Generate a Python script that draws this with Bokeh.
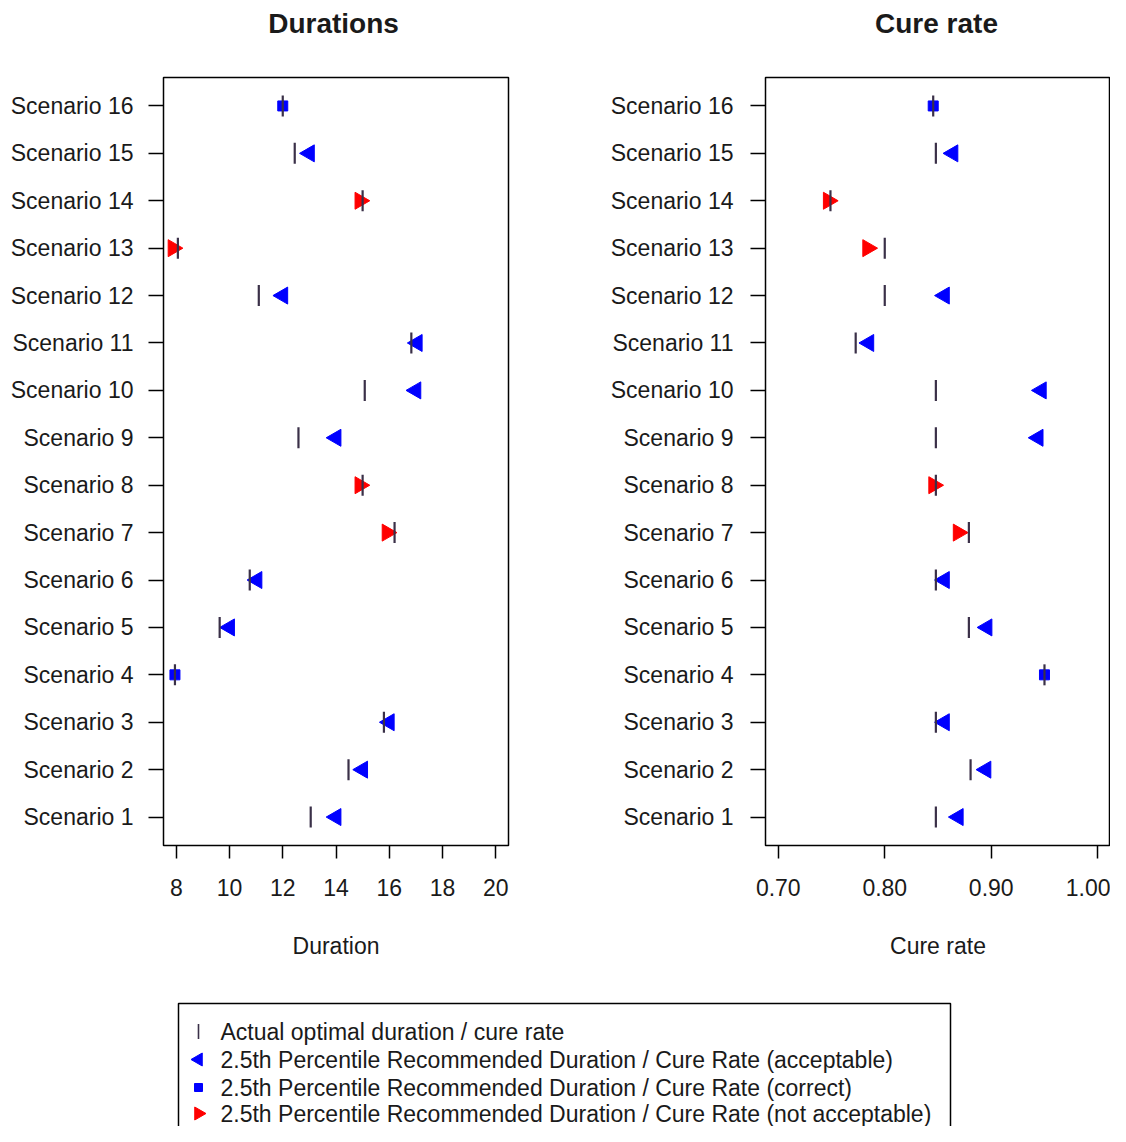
import math
from bokeh.plotting import figure
from bokeh.models import ColumnDataSource, Range1d, FixedTicker, PrintfTickFormatter
from bokeh.layouts import column, row
from bokeh.embed import file_html
from bokeh.resources import INLINE
from bokeh.core.properties import value

# ---------------- data ----------------
scenario_labels = ["Scenario 1", "Scenario 2", "Scenario 3", "Scenario 4", "Scenario 5",
                   "Scenario 6", "Scenario 7", "Scenario 8", "Scenario 9", "Scenario 10",
                   "Scenario 11", "Scenario 12", "Scenario 13", "Scenario 14", "Scenario 15",
                   "Scenario 16"]

# status of the 2.5th percentile recommendation: A = acceptable, C = correct, N = not acceptable
status = ["A", "A", "A", "C", "A", "A", "N", "N", "A", "A", "A", "A", "N", "N", "A", "C"]

duration_actual = [13.05, 14.47, 15.8, 7.95, 9.63, 10.76, 16.2, 15.0, 12.59, 15.08,
                   16.83, 11.1, 8.06, 15.0, 12.45, 12.0]
duration_recommended = [14.0, 15.0, 16.0, 7.95, 10.0, 11.03, 15.92, 14.9, 14.0, 17.0,
                        17.05, 12.0, 7.88, 14.9, 13.0, 12.0]

cure_actual = [0.848, 0.8806, 0.848, 0.95, 0.879, 0.848, 0.879, 0.848, 0.848, 0.848,
               0.7727, 0.80, 0.80, 0.749, 0.848, 0.8455]
cure_recommended = [0.869, 0.895, 0.856, 0.95, 0.896, 0.856, 0.869, 0.846, 0.944, 0.947,
                    0.785, 0.856, 0.784, 0.747, 0.864, 0.8455]

duration_ticks = [8, 10, 12, 14, 16, 18, 20]
cure_ticks = [0.70, 0.80, 0.90, 1.00]

panel_titles = ["Durations", "Cure rate"]
axis_titles = ["Duration", "Cure rate"]

legend_labels = ["Actual optimal duration / cure rate",
                 "2.5th Percentile Recommended Duration / Cure Rate (acceptable)",
                 "2.5th Percentile Recommended Duration / Cure Rate (correct)",
                 "2.5th Percentile Recommended Duration / Cure Rate (not acceptable)"]

# ---------------- style ----------------
FONT = "Liberation Sans"
BLUE = "#0000ff"
RED = "#ff0000"
ACT = "#3a3048"
TXT = "#1a1a1a"
TOTAL_W = 1110
HEAD_H = 45

ypos = [i + 1 for i in range(len(scenario_labels))]


def make_panel(xlabel, actual, rec, xr, ticks, fmt, width, bl, br, ystandoff):
    p = figure(width=width, height=965 - HEAD_H, x_range=Range1d(*xr),
               y_range=Range1d(0.4, 16.6),
               output_backend="svg", toolbar_location=None,
               min_border_left=bl, min_border_right=br, min_border_top=77 - HEAD_H,
               min_border_bottom=120)
    p.xgrid.visible = False
    p.ygrid.visible = False
    p.outline_line_color = "black"
    p.outline_line_width = 1.5
    p.outline_line_alpha = 1.0

    xa = p.xaxis[0]
    xa.ticker = FixedTicker(ticks=ticks)
    if fmt:
        xa.formatter = PrintfTickFormatter(format=fmt)
    xa.axis_line_color = None
    xa.major_tick_out = 13
    xa.major_tick_in = 0
    xa.minor_tick_out = 0
    xa.minor_tick_in = 0
    xa.major_tick_line_color = "black"
    xa.major_tick_line_width = 1.5
    xa.major_label_text_font = FONT
    xa.major_label_text_font_size = "23px"
    xa.major_label_text_color = TXT
    xa.major_label_standoff = 20
    xa.axis_label = xlabel
    xa.axis_label_text_font = FONT
    xa.axis_label_text_font_size = "23px"
    xa.axis_label_text_font_style = "normal"
    xa.axis_label_text_color = TXT
    xa.axis_label_standoff = 34

    ya = p.yaxis[0]
    ya.ticker = FixedTicker(ticks=ypos)
    ya.major_label_overrides = {y: lab for y, lab in zip(ypos, scenario_labels)}
    ya.axis_line_color = None
    ya.major_tick_out = 15
    ya.major_tick_in = 0
    ya.minor_tick_out = 0
    ya.minor_tick_in = 0
    ya.major_tick_line_color = "black"
    ya.major_tick_line_width = 1.5
    ya.major_label_text_font = FONT
    ya.major_label_text_font_size = "23px"
    ya.major_label_text_color = TXT
    ya.major_label_standoff = ystandoff

    def subset(code):
        idx = [i for i, s in enumerate(status) if s == code]
        return ColumnDataSource(dict(x=[rec[i] for i in idx], y=[ypos[i] for i in idx]))

    p.scatter("x", "y", source=subset("A"), marker="triangle", angle=math.pi / 2, size=17,
              fill_color=BLUE, line_color=BLUE)
    p.scatter("x", "y", source=subset("C"), marker="square", size=10,
              fill_color=BLUE, line_color=BLUE)
    p.scatter("x", "y", source=subset("N"), marker="triangle", angle=-math.pi / 2, size=17,
              fill_color=RED, line_color=RED)
    p.scatter(actual, ypos, marker="dash", angle=math.pi / 2, size=21,
              line_color=ACT, line_width=2.2)
    return p


# ---------------- header with the two panel titles ----------------
hd = figure(width=TOTAL_W, height=HEAD_H, x_range=Range1d(0, TOTAL_W),
            y_range=Range1d(HEAD_H, 0), output_backend="svg", toolbar_location=None,
            x_axis_location=None, y_axis_location=None,
            min_border_left=0, min_border_right=0, min_border_top=0, min_border_bottom=0)
hd.grid.visible = False
hd.outline_line_color = None
hd.text(x=[333, 936], y=[23, 23], text=panel_titles, text_font=value(FONT),
        text_font_size="28px", text_font_style="bold", text_align="center",
        text_baseline="middle", text_color=TXT)

p1 = make_panel(axis_titles[0], duration_actual, duration_recommended,
                (7.52, 20.48), duration_ticks, None, 563, 163, 55, 15)
p2 = make_panel(axis_titles[1], cure_actual, cure_recommended,
                (0.688, 1.012), cure_ticks, "%.2f", 547, 202, 0, 17)

# ---------------- legend ----------------
LH = 161
lg = figure(width=TOTAL_W, height=LH, x_range=Range1d(0, TOTAL_W), y_range=Range1d(LH, 0),
            output_backend="svg", toolbar_location=None,
            x_axis_location=None, y_axis_location=None,
            min_border_left=0, min_border_right=0, min_border_top=0, min_border_bottom=0)
lg.grid.visible = False
lg.outline_line_color = None

lg.quad(left=[178], right=[950], top=[38], bottom=[LH + 40], fill_color=None,
        line_color="black", line_width=1.5)

row_y = [66, 94, 122, 148]
sym_x = 198
txt_x = 220
lg.scatter([sym_x], [row_y[0]], marker="dash", angle=math.pi / 2, size=15,
           line_color=ACT, line_width=1.6)
lg.scatter([sym_x], [row_y[1]], marker="triangle", angle=math.pi / 2, size=13,
           fill_color=BLUE, line_color=BLUE)
lg.scatter([sym_x], [row_y[2]], marker="square", size=8, fill_color=BLUE, line_color=BLUE)
lg.scatter([sym_x], [row_y[3]], marker="triangle", angle=-math.pi / 2, size=13,
           fill_color=RED, line_color=RED)
lg.text(x=[txt_x] * 4, y=row_y, text=legend_labels, text_font=value(FONT),
        text_font_size="23px", text_baseline="middle", text_align="left", text_color=TXT)

layout = column(hd, row(p1, p2), lg)
open("out.html", "w").write(file_html(layout, INLINE))
